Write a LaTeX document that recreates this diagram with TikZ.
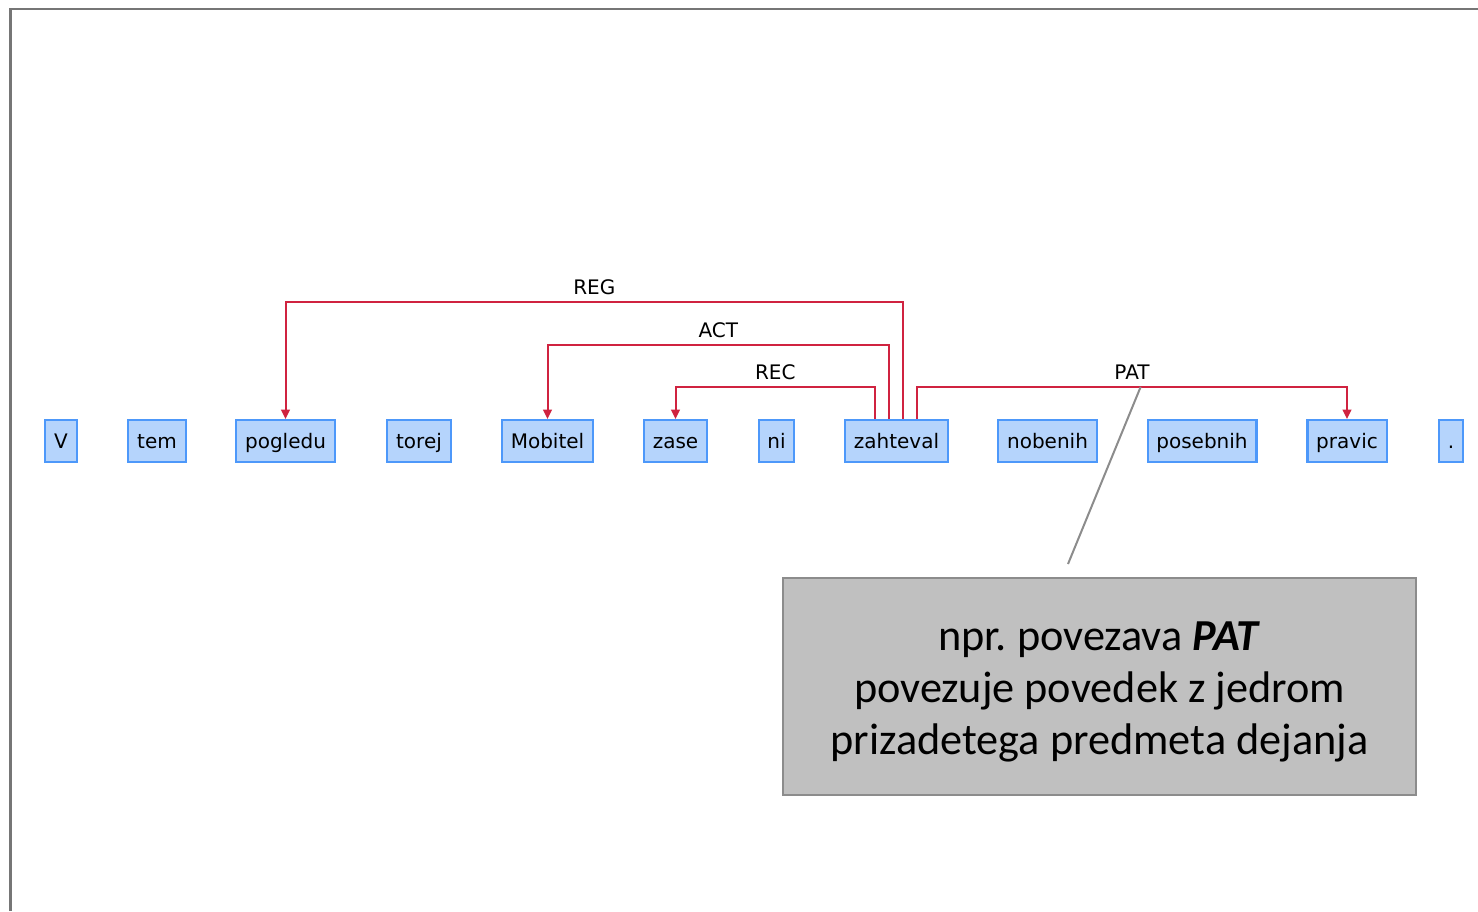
\documentclass[tikz,border=0pt]{standalone}
\usepackage{fontspec}
\setmainfont{DejaVu Sans}
\newfontfamily\notefont{Carlito}
\usepackage{xcolor}
\usetikzlibrary{arrows.meta}
\usetikzlibrary{calc}

\definecolor{tokfill}{RGB}{181,212,252}
\definecolor{tokdraw}{RGB}{77,152,250}
\definecolor{arcred}{RGB}{208,35,64}
\definecolor{notefill}{RGB}{192,192,192}
\definecolor{notedraw}{RGB}{140,140,140}
\definecolor{framegray}{RGB}{118,118,118}

\tikzset{
  token/.style={draw=tokdraw, fill=tokfill, line width=1.6pt, inner xsep=6.6pt,
    minimum height=31.5pt, text height=12.8pt, text depth=1.9pt,
    font=\fontsize{15}{18}\selectfont},
  deparc/.style={draw=arcred, line width=1.5pt, -{Triangle[length=7pt,width=6.5pt]}},
  deplabel/.style={above=4.5pt, font=\fontsize{15}{18}\selectfont, inner sep=0pt},
  notebox/.style={draw=notedraw, fill=notefill, line width=1.8pt, align=center,
    minimum width=474.75pt, minimum height=162.75pt,
    font=\notefont\fontsize{33.2}{39}\selectfont},
}

\begin{document}
\begin{tikzpicture}[x=0.75pt,y=-0.75pt]
\useasboundingbox (0,0) rectangle (1478,911);

% frame
\draw[framegray, line width=1.9pt] (10.5,911) -- (10.5,9) -- (1478,9);

% tokens
\node[token] (v) at (61,441) {V};
\node[token] (tem) at (157,441) {tem};
\node[token] (pogledu) at (285.5,441) {pogledu};
\node[token] (torej) at (419,441) {torej};
\node[token] (mobitel) at (547.5,441) {Mobitel};
\node[token] (zase) at (675.5,441) {zase};
\node[token] (ni) at (776.5,441) {ni};
\node[token] (zahteval) at (896.5,441) {zahteval};
\node[token] (nobenih) at (1047.5,441) {nobenih};
\node[token] (posebnih) at (1202,441) {posebnih};
\node[token] (pravic) at (1347,441) {pravic};
\node[token] (pika) at (1451,441) {.};

% arcs
\draw[deparc] ([xshift=-16.1pt]zahteval.north) -- ++(0,-32) -| (zase.north)
  node[deplabel,pos=0.25] {REC};
\draw[deparc] ([xshift=-5.6pt]zahteval.north) -- ++(0,-74) -| (mobitel.north)
  node[deplabel,pos=0.25] {ACT};
\draw[deparc] ([xshift=4.9pt]zahteval.north) -- ++(0,-117) -| (pogledu.north)
  node[deplabel,pos=0.25] {REG};
\draw[deparc] ([xshift=15.4pt]zahteval.north) -- ++(0,-32) -| (pravic.north)
  node[deplabel,pos=0.25] {PAT} coordinate[pos=0.26] (patmid);

% note
\node[notebox] (note) at (1099.5,686.5)
  {\rule{0pt}{29pt}npr.\ povezava \textbf{\textit{PAT}}\\povezuje povedek z jedrom\\prizadetega predmeta dejanja};
\coordinate (notetip) at (1068,564);
\draw[notedraw, line width=1.5pt] (patmid) -- (notetip);
\end{tikzpicture}
\end{document}
